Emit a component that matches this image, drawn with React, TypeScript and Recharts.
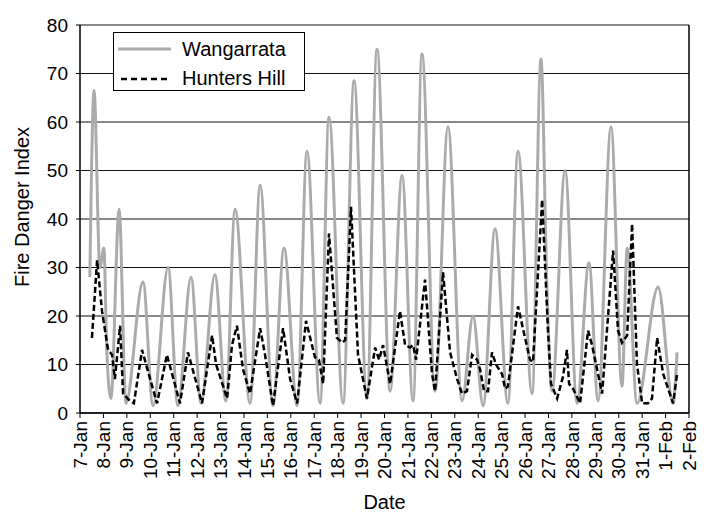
import { LineChart, Line, XAxis, YAxis, CartesianGrid, Legend, ReferenceLine } from 'recharts';

// x values are days since 7-Jan 00:00
const dateLabels = [
  '7-Jan', '8-Jan', '9-Jan', '10-Jan', '11-Jan', '12-Jan', '13-Jan', '14-Jan', '15-Jan',
  '16-Jan', '17-Jan', '18-Jan', '19-Jan', '20-Jan', '21-Jan', '22-Jan', '23-Jan', '24-Jan',
  '25-Jan', '26-Jan', '27-Jan', '28-Jan', '29-Jan', '30-Jan', '31-Jan', '1-Feb', '2-Feb',
];
const dayTicks = dateLabels.map((_, i) => i);
const fdiTicks = [0, 10, 20, 30, 40, 50, 60, 70, 80];

const wangDay = [
  0.42, 0.6, 0.85, 1.02, 1.15, 1.32, 1.67, 1.96, 2.69, 3.12, 3.76, 4.18, 4.74, 5.17, 5.76, 6.23,
  6.62, 7.26, 7.69, 8.24, 8.71, 9.27, 9.69, 10.25, 10.63, 11.23, 11.7, 12.25, 12.68, 13.24, 13.75, 14.22,
  14.6, 15.16, 15.71, 16.31, 16.78, 17.21, 17.72, 18.27, 18.7, 19.3, 19.68, 19.94, 20.15, 20.71, 21.22, 21.73,
  22.12, 22.67, 23.14, 23.36, 23.78, 24.68, 25.32, 25.49,
];
const wangFdi = [
  28, 66.5, 30, 34, 12, 3, 42, 2, 27, 1.5, 30, 1.5, 28, 2, 28.5, 2.5,
  42, 2, 47, 1.5, 34, 1.5, 54, 2, 61, 2, 68.5, 3, 75, 4.5, 49, 2.5,
  74, 4.5, 59, 2.5, 20, 1.5, 38, 2, 54, 4, 73, 25, 4.5, 50, 2, 31,
  2.5, 59, 5.5, 34, 2, 26, 2, 12.5,
];

const hunterDay = [
  0.51, 0.73, 0.94, 1.2, 1.37, 1.49, 1.71, 1.84, 2.13, 2.3,
  2.65, 2.82, 3.29, 3.71, 4.27, 4.61, 5.21, 5.64, 5.81, 6.28,
  6.49, 6.7, 6.96, 7.26, 7.69, 7.9, 8.24, 8.67, 8.97, 9.27,
  9.65, 10.03, 10.2, 10.38, 10.63, 10.97, 11.19, 11.32, 11.57, 11.87,
  12.25, 12.6, 12.77, 12.94, 13.24, 13.66, 13.88, 14.09, 14.22, 14.35,
  14.73, 15.03, 15.16, 15.5, 15.8, 16.1, 16.31, 16.52, 16.74, 16.95,
  17.08, 17.25, 17.42, 17.59, 17.76, 18.02, 18.15, 18.27, 18.7, 19.0,
  19.21, 19.34, 19.73, 19.98, 20.11, 20.37, 20.62, 20.79, 20.88, 21.05,
  21.35, 21.69, 21.86, 22.29, 22.76, 22.97, 23.14, 23.36, 23.57, 23.78,
  24.0, 24.25, 24.42, 24.64, 24.9, 25.32, 25.49,
];
const hunterFdi = [
  15.5, 31.5, 21, 13, 12, 7, 18, 4, 2.5, 2,
  13, 10, 2, 12, 2, 12.5, 2, 16, 10, 3,
  14, 18, 9, 4, 17.5, 12, 1.5, 17.5, 7, 2,
  19, 11.5, 11, 6, 37, 15.5, 14.5, 15, 42.5, 12,
  3, 13.5, 11, 14, 6, 21, 14, 13.5, 14, 11,
  27.5, 8, 4.5, 29, 12.5, 7, 4, 4.5, 12, 11,
  9, 4.5, 4.5, 12.5, 10, 8, 5, 5.5, 22, 15.5,
  11, 10.5, 44, 17, 6, 3, 7.5, 13, 6, 5,
  2, 17, 14, 4, 33.5, 17, 14.5, 16, 39, 10,
  2, 2, 3, 15.5, 8, 2, 8,
];

const wangData = wangDay.map((d, i) => ({ day: d, fdi: wangFdi[i] }));
const hunterData = hunterDay.map((d, i) => ({ day: d, fdi: hunterFdi[i] }));

const FONT = 'Arial, "Liberation Sans", sans-serif';
const GREY = '#ababab';

const DateTick = ({ x, y, payload }: any) => (
  <text
    x={x}
    y={y}
    transform={`rotate(-90, ${x}, ${y})`}
    textAnchor="end"
    dy="0.35em"
    fontSize={19}
    fontFamily={FONT}
    fill="#000"
  >
    {dateLabels[payload.value]}
  </text>
);

const LegendBox = () => (
  <div
    style={{
      width: 190,
      height: 57,
      border: '1.5px solid #000',
      background: '#fff',
      fontFamily: FONT,
      fontSize: 20,
      position: 'relative',
    }}
  >
    <svg width={70} height={57} style={{ position: 'absolute', left: 0, top: 0 }}>
      <line x1={4} y1={16} x2={57} y2={16} stroke={GREY} strokeWidth={3} />
      <line x1={7} y1={46} x2={54} y2={46} stroke="#000" strokeWidth={2.5} strokeDasharray="6 4" />
    </svg>
    <div style={{ position: 'absolute', left: 68, top: 4, lineHeight: '24px' }}>Wangarrata</div>
    <div style={{ position: 'absolute', left: 68, top: 33, lineHeight: '24px' }}>Hunters Hill</div>
  </div>
);

export default function App() {
  return (
    <div style={{ width: 700, height: 507, background: '#fff' }}>
      <LineChart width={700} height={507} margin={{ top: 17, right: 19, bottom: 0, left: 0 }}>
        <CartesianGrid horizontal vertical={false} stroke="#111" strokeWidth={1.2} />
        <XAxis
          dataKey="day"
          type="number"
          domain={[0, 26]}
          ticks={dayTicks}
          interval={0}
          height={102}
          tickSize={5}
          tickMargin={3}
          tick={<DateTick />}
          axisLine={{ stroke: '#000', strokeWidth: 1.5 }}
          tickLine={{ stroke: '#000' }}
          allowDuplicatedCategory={false}
          label={{ value: 'Date', position: 'insideBottom', offset: 6, fontSize: 20, fontFamily: FONT, fill: '#000' }}
        />
        <YAxis
          type="number"
          domain={[0, 80]}
          ticks={fdiTicks}
          interval={0}
          width={72}
          tickSize={4}
          tickMargin={8}
          tick={{ fontSize: 19, fontFamily: FONT, fill: '#000' }}
          axisLine={{ stroke: '#000', strokeWidth: 1.5 }}
          tickLine={{ stroke: '#000' }}
          label={{
            value: 'Fire Danger Index',
            angle: -90,
            position: 'insideLeft',
            offset: 14,
            dy: -12,
            fontSize: 20,
            fontFamily: FONT,
            fill: '#000',
            style: { textAnchor: 'middle' },
          }}
        />
        <ReferenceLine x={26} stroke="#000" strokeWidth={1.5} />
        <Legend
          layout="horizontal"
          verticalAlign="middle"
          align="center"
          wrapperStyle={{ left: 105, top: 24, width: 'auto' }}
          content={<LegendBox />}
        />
        <Line
          data={wangData}
          dataKey="fdi"
          name="Wangarrata"
          type="monotone"
          stroke={GREY}
          strokeWidth={3}
          dot={false}
          isAnimationActive={false}
        />
        <Line
          data={hunterData}
          dataKey="fdi"
          name="Hunters Hill"
          type="linear"
          stroke="#000"
          strokeWidth={2.5}
          strokeDasharray="6 3"
          dot={false}
          isAnimationActive={false}
        />
      </LineChart>
    </div>
  );
}
